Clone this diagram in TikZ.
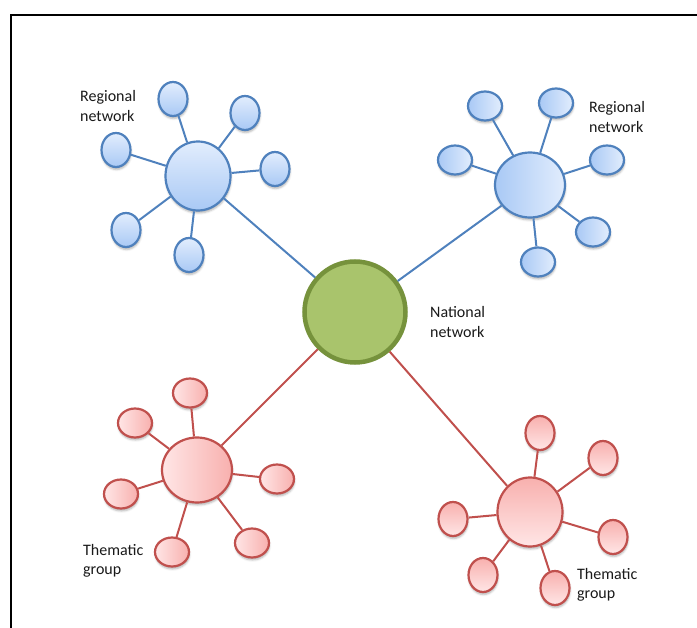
\documentclass[tikz,border=0pt]{standalone}
\usepackage{fontspec}
\setmainfont{Carlito}
\usetikzlibrary{shapes.geometric,shadows.blur}
\definecolor{blueline}{HTML}{4F81BD}
\definecolor{bluelight}{HTML}{E2EDFD}
\definecolor{bluedark}{HTML}{A9C9F5}
\definecolor{redline}{HTML}{C0504D}
\definecolor{redlight}{HTML}{FFE6E6}
\definecolor{reddark}{HTML}{F8B0AE}
\definecolor{natfill}{HTML}{A9C46C}
\definecolor{natline}{HTML}{76923C}
\tikzset{
 ball/.style={ellipse, draw, inner sep=0pt, line width=2.2pt,
   blur shadow={shadow xshift=.5pt, shadow yshift=-2.5pt, shadow blur radius=2pt, shadow opacity=30}},
 bhub/.style={ball, draw=blueline},
 bsat/.style={ball, draw=blueline},
 rhub/.style={ball, draw=redline},
 rsat/.style={ball, draw=redline},
 nat/.style={circle, draw=natline, fill=natfill, line width=4.5pt, minimum size=101pt, inner sep=0pt},
 lbl/.style={anchor=west, align=left, inner sep=0pt, font=\fontsize{16}{19.5}\selectfont, text=black!90}
}
\begin{document}
\begin{tikzpicture}[x=1pt, y=-1pt]
\useasboundingbox (0,0) rectangle (697,628);
\draw[line width=2pt](11,628)--(11,15)--(697,15);

% national network
\node[nat] (nat) at (355,312) {};
\node[lbl] at (430,322) {National\\network};

% regional network, top left
\node[bhub, minimum width=65pt, minimum height=69pt, top color=bluelight, bottom color=bluedark] (rl) at (198,176) {};
\foreach \p [count=\i] in {(173,99),(245,113),(275,169),(116,150),(126,230),(189,255)}{
  \node[bsat, minimum width=29pt, minimum height=34pt, top color=bluelight, bottom color=bluedark] (rl\i) at \p {};
  \draw[blueline, line width=2pt](rl)--(rl\i);
}
\draw[blueline, line width=2pt](rl)--(nat);
\node[lbl] at (80,106) {Regional\\network};

% regional network, top right
\node[bhub, minimum width=70pt, minimum height=65pt, left color=bluedark, right color=bluelight] (rr) at (530,185) {};
\foreach \p [count=\i] in {(485,106),(556,103),(455,160),(607,160),(593,232),(538,262)}{
  \node[bsat, minimum width=34pt, minimum height=29pt, left color=bluedark, right color=bluelight] (rr\i) at \p {};
  \draw[blueline, line width=2pt](rr)--(rr\i);
}
\draw[blueline, line width=2pt](rr)--(nat);
\node[lbl] at (589,117) {Regional\\network};

% thematic group, bottom left
\node[rhub, minimum width=70pt, minimum height=65pt, left color=redlight, right color=reddark] (tl) at (197,470) {};
\foreach \p [count=\i] in {(190,393),(135,423),(277,479),(121,494),(172,552),(252,543)}{
  \node[rsat, minimum width=34pt, minimum height=29pt, left color=redlight, right color=reddark] (tl\i) at \p {};
  \draw[redline, line width=2pt](tl)--(tl\i);
}
\draw[redline, line width=2pt](tl)--(nat);
\node[lbl] at (83,561) {Thematic\\group};

% thematic group, bottom right
\node[rhub, minimum width=65pt, minimum height=69pt, top color=reddark, bottom color=redlight] (tr) at (530,512) {};
\foreach \p [count=\i] in {(540,433),(603,458),(453,519),(613,537),(483,575),(555,588)}{
  \node[rsat, minimum width=29pt, minimum height=34pt, top color=reddark, bottom color=redlight] (tr\i) at \p {};
  \draw[redline, line width=2pt](tr)--(tr\i);
}
\draw[redline, line width=2pt](tr)--(nat);
\node[lbl] at (577,585) {Thematic\\group};
\end{tikzpicture}
\end{document}
